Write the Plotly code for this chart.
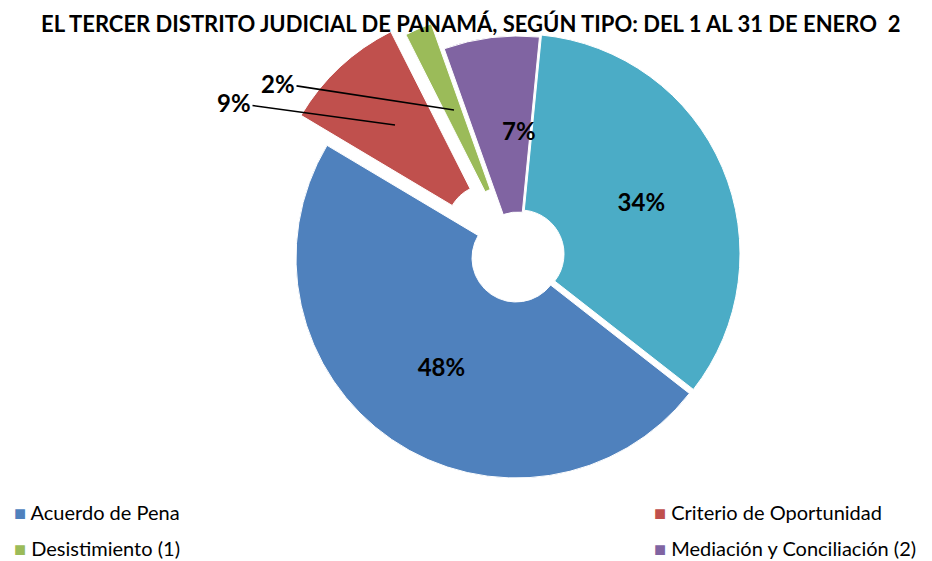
import plotly.graph_objects as go

# ---- data ----
labels = ["Acuerdo de Pena", "Criterio de Oportunidad", "Desistimiento (1)",
          "Mediación y Conciliación (2)", "Suspensión Condicional del Proceso"]
values = [48, 9, 2, 7, 34]
colors = ["#4F81BD", "#C0504D", "#9BBB59", "#8064A2", "#4BACC6"]
legend_labels = labels[:4]
title_text = "EL TERCER DISTRITO JUDICIAL DE PANAMÁ, SEGÚN TIPO: DEL 1 AL 31 DE ENERO  2"

W, H = 924, 553          # page adds an 8px body margin
FONT = "Lato, 'Open Sans', sans-serif"
CX, CY, R = 510, 248, 220  # pie centre / radius in figure px (layout)

# per-slice offsets (px) emulating the exploded slices
offsets = [(-2, 2), (-28, -28), (-13, -25), (0, 0), (2, -2)]
inside_text = {0, 4}


def domain(dx, dy):
    cx, cy = CX + dx, CY + dy
    x0, x1 = (cx - R) / W, (cx + R) / W
    y0, y1 = 1 - (cy + R) / H, 1 - (cy - R) / H
    return dict(x=[max(0, x0), min(1, x1)], y=[max(0, y0), min(1, y1)])


fig = go.Figure()
for k in range(len(values)):
    cols = [colors[i] if i == k else "rgba(0,0,0,0)" for i in range(len(values))]
    lw = [1 if i == k else 0 for i in range(len(values))]
    texts = [f"<b>{values[i]}%</b>" if (i == k and i in inside_text) else "" for i in range(len(values))]
    dx, dy = offsets[k]
    fig.add_trace(go.Pie(
        labels=labels, values=values, sort=False, direction="clockwise",
        rotation=128, hole=0.2,
        marker=dict(colors=cols, line=dict(color="white", width=lw)),
        text=texts, textinfo="text", textposition="inside",
        insidetextorientation="horizontal",
        insidetextfont=dict(family=FONT, size=24, color="black"),
        domain=domain(dx, dy), showlegend=False, hoverinfo="skip",
    ))

annotations = []
# title
annotations.append(dict(
    text=f"<b>{title_text}</b>", x=0.5, y=1.0, xref="paper", yref="paper",
    xanchor="center", yanchor="top", showarrow=False,
    font=dict(family=FONT, size=22, color="black")))

# purple slice label
annotations.append(dict(
    text=f"<b>{values[3]}%</b>", x=511 / W, y=1 - 123 / H, xref="paper", yref="paper",
    xanchor="center", yanchor="middle", showarrow=False,
    font=dict(family=FONT, size=24, color="black")))

# outside labels with leader lines (red, green)
for i, (tip, off) in {1: ((387, 117), (-161, -22)), 2: ((446, 102), (-176, -27))}.items():
    annotations.append(dict(
        text=f"<b>{values[i]}%</b>", x=tip[0] / W, y=1 - tip[1] / H,
        xref="paper", yref="paper", ax=off[0], ay=off[1],
        showarrow=True, arrowhead=0, arrowwidth=1.6, arrowcolor="black",
        font=dict(family=FONT, size=24, color="black")))

# manual legend
leg_pos = [(4, 504), (644, 504), (4, 540), (644, 540)]
for (lx, ly), lab, col in zip(leg_pos, legend_labels, colors[:4]):
    annotations.append(dict(
        text=f"<span style='color:{col}'>■</span> {lab}",
        x=lx / W, y=1 - ly / H, xref="paper", yref="paper",
        xanchor="left", yanchor="middle", showarrow=False,
        font=dict(family=FONT, size=20, color="black")))

fig.update_layout(
    width=W, height=H, margin=dict(l=0, r=0, t=0, b=0),
    paper_bgcolor="white", plot_bgcolor="white",
    annotations=annotations, showlegend=False,
)

fig.write_html("out.html")
